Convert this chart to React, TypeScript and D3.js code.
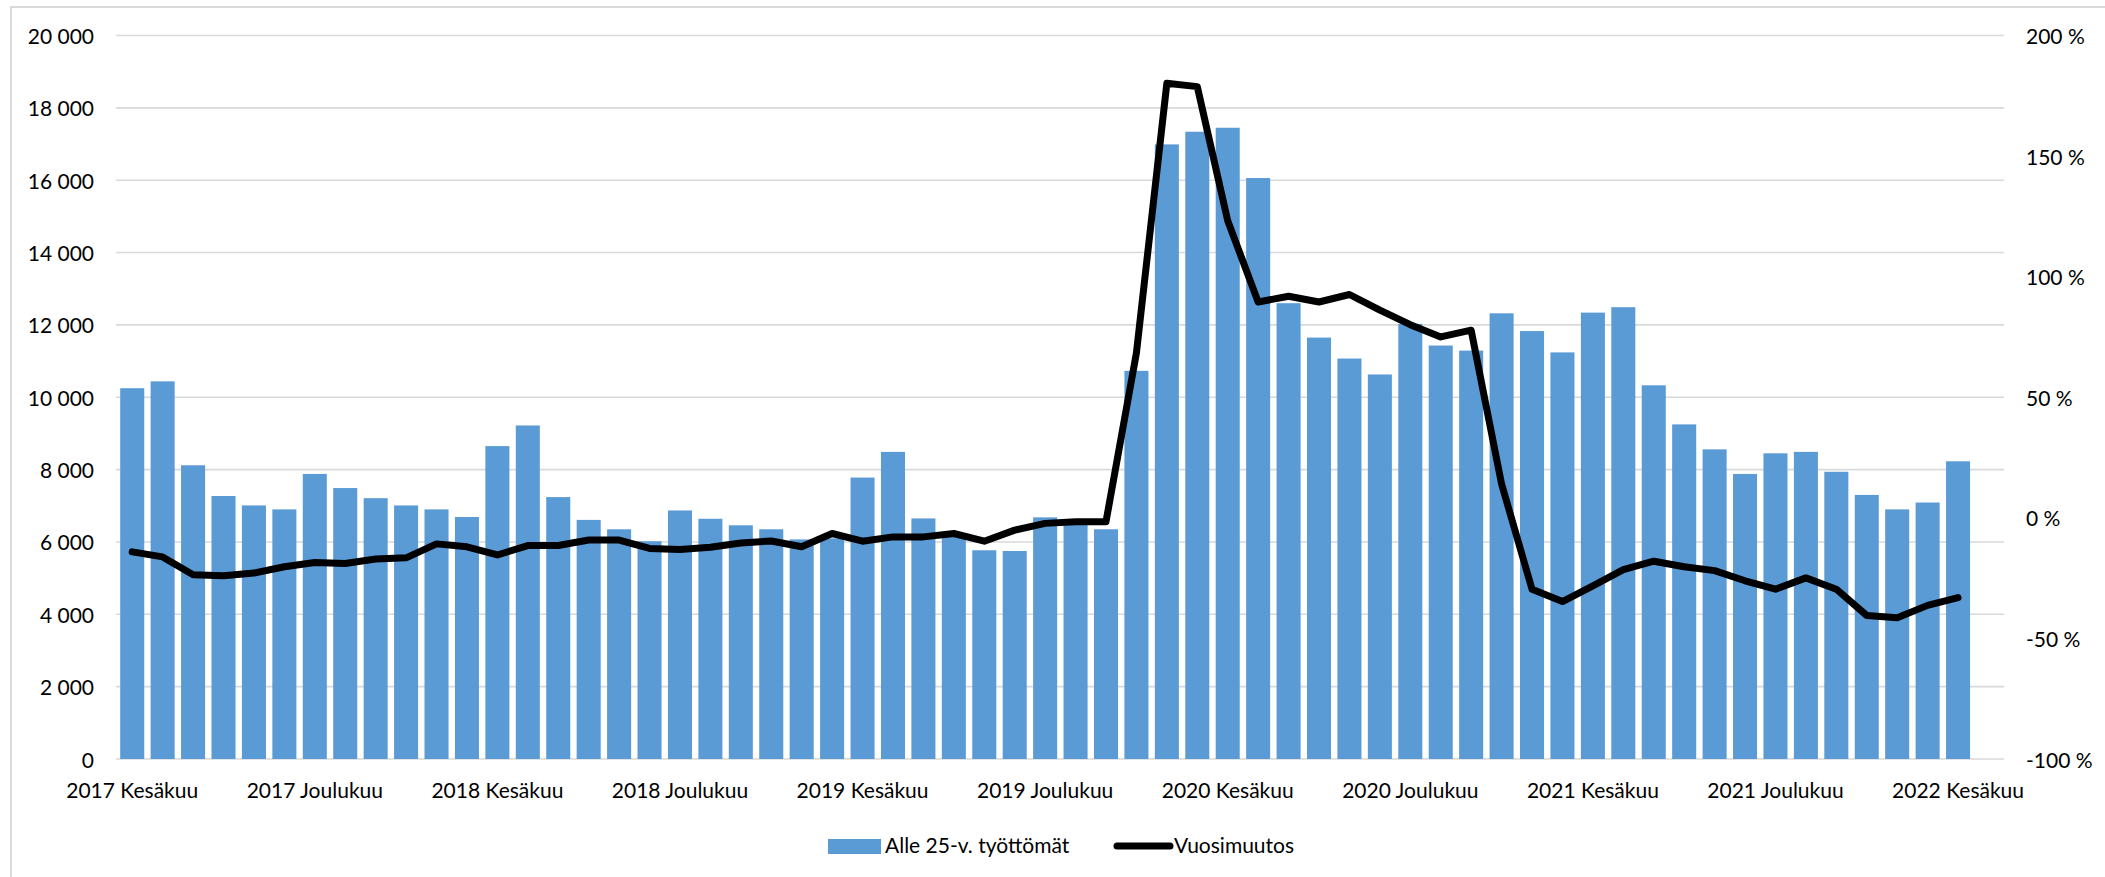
import React from 'react';
import * as d3 from 'd3';

// Months shown on the category axis (June 2017 .. July 2022, last slot empty)
const monthNames = ['Kesäkuu', 'Heinäkuu', 'Elokuu', 'Syyskuu', 'Lokakuu', 'Marraskuu', 'Joulukuu',
  'Tammikuu', 'Helmikuu', 'Maaliskuu', 'Huhtikuu', 'Toukokuu'];
const startYear = 2017;
const categoryCount = 62;
const labelledMonths = ['Kesäkuu', 'Joulukuu'];

// Alle 25-v. työttömät
const unemployed = [
  10250, 10440, 8120, 7270, 7010, 6900, 7880, 7490, 7210, 7010,
  6900, 6690, 8650, 9220, 7240, 6610, 6350, 6020, 6870, 6640,
  6460, 6350, 6070, 6100, 7780, 8490, 6650, 6200, 5770, 5750,
  6680, 6550, 6350, 10730, 16990, 17340, 17450, 16060, 12600, 11650,
  11070, 10630, 12030, 11430, 11290, 12320, 11830, 11240, 12340, 12490,
  10330, 9250, 8560, 7880, 8450, 8490, 7940, 7300, 6900, 7090,
  8230,
];

// Vuosimuutos (%)
const yearlyChange = [
  -14.1, -16.2, -23.6, -24.0, -22.9, -20.3, -18.5, -18.9, -17.1, -16.6,
  -10.8, -12.0, -15.4, -11.5, -11.5, -9.2, -9.2, -12.7, -13.1, -12.2,
  -10.4, -9.6, -12.0, -6.5, -9.7, -7.9, -7.9, -6.5, -9.7, -5.1,
  -2.3, -1.6, -1.6, 68.4, 180.2, 178.8, 123.2, 89.5, 91.9, 89.5,
  92.6, 86.1, 80.1, 75.0, 77.8, 14.0, -29.6, -34.7, -28.2, -21.5,
  -18.0, -20.3, -21.9, -26.1, -29.6, -24.9, -29.6, -40.5, -41.4, -36.3,
  -33.1,
];

const leftTicks = [0, 2000, 4000, 6000, 8000, 10000, 12000, 14000, 16000, 18000, 20000];
const rightTicks = [-100, -50, 0, 50, 100, 150, 200];

const categories: string[] = d3.range(categoryCount).map(i => {
  const m = i % 12;
  const y = startYear + Math.floor((i + 5) / 12);
  return `${y} ${monthNames[m]}`;
});

const W = 2105;
const H = 877;
const FONT = 'Lato, "Open Sans", sans-serif';
const BLUE = '#5B9BD5';
const GRID = '#D9D9D9';

const fmtThousands = (v: number) => d3.format(',')(v).replace(/,/g, ' ');

export default function App() {
  const x = d3.scaleBand<string>()
    .domain(categories)
    .range([117, 2003.7])
    .paddingInner(0.21)
    .paddingOuter(0.105);

  const y = d3.scaleLinear().domain([0, 20000]).range([759, 35.5]);
  const y2 = d3.scaleLinear().domain([-100, 200]).range([759, 35.5]);

  const cx = (i: number) => (x(categories[i]) ?? 0) + x.bandwidth() / 2;

  const line = d3.line<number>()
    .x((_, i) => cx(i))
    .y(d => y2(d));

  return (
    <svg width={W} height={H} style={{ position: 'absolute', left: 0, top: 0, background: '#fff' }}
      fontFamily={FONT}>
      <rect x={0} y={0} width={W} height={H} fill="#fff" />
      <rect x={11} y={7} width={W} height={H + 20} fill="none" stroke={GRID} strokeWidth={2} />

      {/* gridlines */}
      {leftTicks.map(t => (
        <line key={t} x1={116} x2={2004} y1={y(t)} y2={y(t)} stroke={GRID} strokeWidth={1.6} />
      ))}

      {/* bars */}
      {unemployed.map((v, i) => (
        <rect key={i} x={x(categories[i])} y={y(v)} width={x.bandwidth()} height={y(0) - y(v)} fill={BLUE} />
      ))}

      {/* yearly change line */}
      <path d={line(yearlyChange) ?? ''} fill="none" stroke="#000" strokeWidth={7}
        strokeLinejoin="round" strokeLinecap="round" />

      {/* left axis */}
      {leftTicks.map(t => (
        <text key={t} x={94} y={y(t)} textAnchor="end" dominantBaseline="central" fontSize={21} fill="#000">
          {fmtThousands(t)}
        </text>
      ))}

      {/* right axis */}
      {rightTicks.map(t => (
        <text key={t} x={2026} y={y2(t)} textAnchor="start" dominantBaseline="central" fontSize={21} fill="#000">
          {`${t} %`}
        </text>
      ))}

      {/* category labels */}
      {categories.map((c, i) =>
        labelledMonths.some(m => c.endsWith(m)) ? (
          <text key={c} x={cx(i)} y={798} textAnchor="middle" fontSize={21} fill="#000">{c}</text>
        ) : null
      )}

      {/* legend */}
      <rect x={828} y={839} width={53} height={15} fill={BLUE} />
      <text x={885} y={853} fontSize={21} fill="#000">Alle 25-v. työttömät</text>
      <line x1={1117} x2={1170} y1={846} y2={846} stroke="#000" strokeWidth={7} strokeLinecap="round" />
      <text x={1174} y={853} fontSize={21} fill="#000">Vuosimuutos</text>
    </svg>
  );
}
